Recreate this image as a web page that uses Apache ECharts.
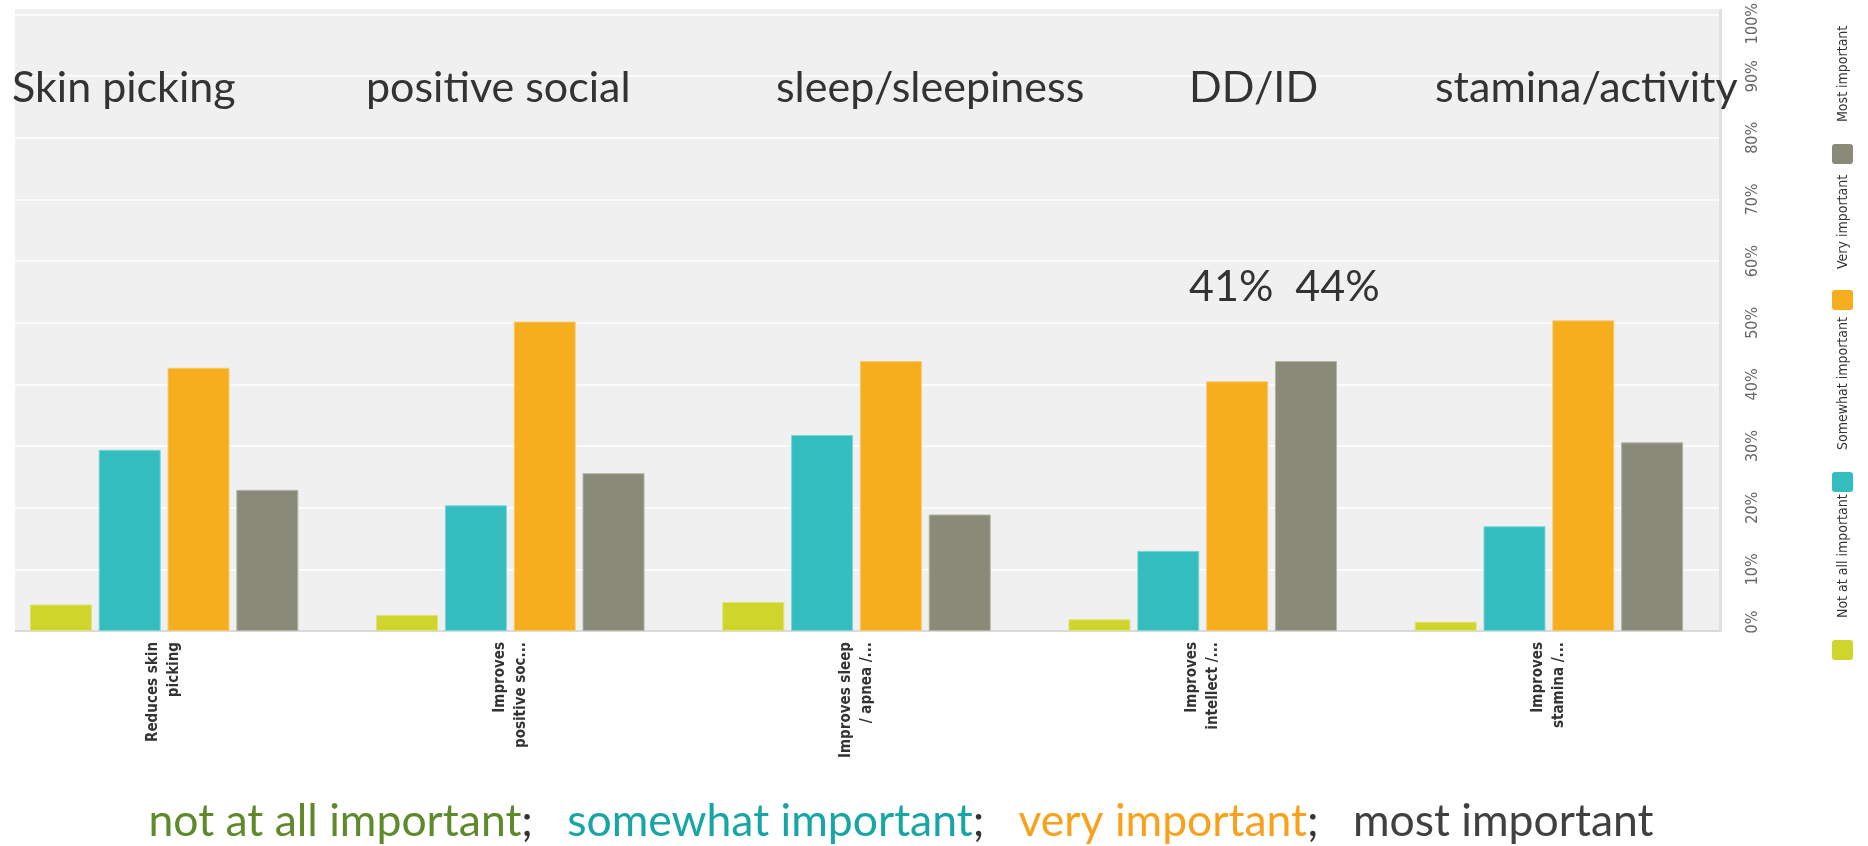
<!DOCTYPE html>
<html>
<head>
<meta charset="utf-8">
<script src="https://cdn.jsdelivr.net/npm/echarts@6/dist/echarts.min.js"></script>
<style>
  html, body { margin: 0; padding: 0; background: #ffffff; overflow: hidden; width: 1868px; height: 846px; }
  #chart { position: absolute; left: -9px; top: 0; width: 1877px; height: 846px; }
</style>
</head>
<body>
<div id="chart"></div>
<script>
// ---- data ----
const categories = [
  'Reduces skin\npicking',
  'Improves\npositive soc...',
  'Improves sleep\n/ apnea /...',
  'Improves\nintellect /...',
  'Improves\nstamina /...'
];
const seriesNames = ['Not at all important', 'Somewhat important', 'Very important', 'Most important'];
const notAtAll = [4.3, 2.6, 4.7, 1.9, 1.5];
const somewhat = [29.4, 20.4, 31.8, 13.0, 17.0];
const veryImp  = [42.7, 50.2, 43.8, 40.5, 50.4];
const mostImp  = [22.9, 25.6, 18.9, 43.8, 30.6];
const yMin = 0, yMax = 100, yStep = 10;
const topicLabels = ['Skin picking', 'positive social', 'sleep/sleepiness', 'DD/ID', 'stamina/activity'];
const highlightLabel = '41%  44%';
const footerParts = ['not at all important', 'somewhat important', 'very important', 'most important'];

// ---- styles ----
const OX = 9; // chart container is shifted 9px left of the page
const barColors = ['#cfd52a', '#33bdbf', '#f6ae1f', '#8a8a78'];
const barBorders = ['#dde27a', '#7fd6d7', '#f9cb70', '#b3b3a6'];
const footerColors = ['#5e8a2b', '#17a5a5', '#f9a11b', '#404040'];
const narrow = "'Liberation Sans Narrow', 'DejaVu Sans Condensed', 'Liberation Sans', sans-serif";
const human = "Lato, 'Open Sans', sans-serif";

const chart = echarts.init(document.getElementById('chart'));

const seriesData = [notAtAll, somewhat, veryImp, mostImp];
const series = seriesData.map((d, i) => ({
  name: seriesNames[i],
  type: 'bar',
  data: d,
  barWidth: 62,
  barGap: '11%',
  itemStyle: { color: barColors[i], borderColor: barBorders[i], borderWidth: 1 },
  emphasis: { disabled: true }
}));

const topicX = [12, 366, 776, 1189, 1435];
const graphics = [];
// plot background
graphics.push({ type: 'rect', z: -10, shape: { x: 15 + OX, y: 9, width: 1707, height: 622 }, style: { fill: '#f0f0f0' } });
graphics.push({ type: 'line', z: 1, shape: { x1: 15 + OX, y1: 631, x2: 1722 + OX, y2: 631 }, style: { stroke: '#dadada', lineWidth: 2 } });
graphics.push({ type: 'line', z: 1, shape: { x1: 1720.5 + OX, y1: 9, x2: 1720.5 + OX, y2: 632 }, style: { stroke: '#e0e0e0', lineWidth: 3 } });
// topic annotations
topicLabels.forEach((t, i) => {
  graphics.push({ type: 'text', z: 10, x: topicX[i] + OX, y: 88,
    style: { text: t, font: '43px ' + human, fill: '#333333', align: 'left', verticalAlign: 'middle' } });
});
graphics.push({ type: 'text', z: 10, x: 1189 + OX, y: 287,
  style: { text: highlightLabel, font: '43px ' + human, fill: '#333333', align: 'left', verticalAlign: 'middle' } });
// legend (rotated)
const legSwatchY = [640, 472, 290, 144];
const legTextY = [618, 450, 269, 122];
seriesNames.forEach((n, i) => {
  graphics.push({ type: 'rect', z: 10, shape: { x: 1832 + OX, y: legSwatchY[i], width: 21, height: 20, r: 3 }, style: { fill: barColors[i] } });
  graphics.push({ type: 'text', z: 10, x: 1843 + OX, y: legTextY[i], rotation: Math.PI / 2,
    style: { text: n, font: '14px ' + narrow, fill: '#333333', align: 'left', verticalAlign: 'middle' } });
});
// footer
const rich = { s: { fill: '#333333', fontSize: 44.5, fontFamily: human } };
footerParts.forEach((p, i) => { rich['f' + i] = { fill: footerColors[i], fontSize: 44.5, fontFamily: human }; });
const footerText = footerParts.map((p, i) => '{f' + i + '|' + p + '}').join('{s|;   }');
graphics.push({ type: 'text', z: 10, x: 901 + OX, y: 822,
  style: { text: footerText, rich: rich, align: 'center', verticalAlign: 'middle', font: '44.5px ' + human } });

chart.setOption({
  animation: false,
  grid: { left: 0, right: 146, top: 9, bottom: 215, containLabel: false },
  xAxis: {
    type: 'category',
    data: categories,
    axisLine: { show: false },
    axisTick: { show: false },
    axisLabel: {
      interval: 0, rotate: 90, margin: 11,
      fontFamily: narrow, fontWeight: 'bold', fontSize: 15, lineHeight: 21, color: '#333333'
    }
  },
  yAxis: {
    type: 'value', position: 'right',
    min: yMin, max: yMax, interval: yStep,
    axisLine: { show: false },
    axisTick: { show: false },
    splitLine: { show: true, lineStyle: { color: '#ffffff', width: 1.5 } },
    axisLabel: {
      rotate: 90, align: 'center', verticalAlign: 'middle', margin: 31,
      fontFamily: narrow, fontSize: 16, color: '#666666',
      formatter: v => v === yMin ? '{lo|' + v + '%}' : (v === yMax ? '{hi|' + v + '%}' : v + '%'),
      rich: {
        lo: { padding: [0, 0, 0, 18], fontFamily: narrow, fontSize: 16, color: '#666666' },
        hi: { padding: [0, 18, 0, 0], fontFamily: narrow, fontSize: 16, color: '#666666' }
      }
    }
  },
  legend: { show: false },
  tooltip: { show: false },
  series: series,
  graphic: { elements: graphics }
});
</script>
</body>
</html>
